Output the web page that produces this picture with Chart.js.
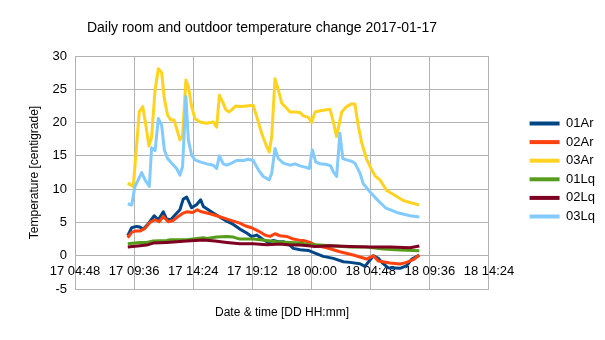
<!DOCTYPE html>
<html>
<head>
<meta charset="utf-8">
<script src="https://cdn.jsdelivr.net/npm/chart.js@4.4.0/dist/chart.umd.min.js"></script>
<style>
  html, body { margin: 0; padding: 0; background: #fff; }
  #wrap { width: 605px; height: 340px; }
</style>
</head>
<body>
<div id="wrap"><canvas id="tempChart"></canvas></div>
<script>
var seriesNames = ['01Ar', '02Ar', '03Ar', '01Lq', '02Lq', '03Lq'];
var seriesColors = ['#004586', '#ff420e', '#ffd320', '#579d1c', '#7e0021', '#83caff'];
var timeTicks = ['17 04:48', '17 09:36', '17 14:24', '17 19:12', '18 00:00', '18 04:48', '18 09:36', '18 14:24'];
var tempTicks = [-5, 0, 5, 10, 15, 20, 25, 30];

// [DD HH:mm, temperature]
var ar01 = [
    ['17 09:05', 3.0], ['17 09:24', 4.2], ['17 09:48', 4.4], ['17 10:04', 4.3], ['17 10:21', 4.0],
    ['17 10:45', 4.8], ['17 11:14', 6.0], ['17 11:34', 5.4], ['17 11:58', 6.6], ['17 12:14', 5.5],
    ['17 12:34', 5.4], ['17 12:55', 6.1], ['17 13:19', 6.9], ['17 13:35', 8.5], ['17 13:52', 8.8],
    ['17 14:16', 7.2], ['17 14:41', 7.7], ['17 15:00', 8.4], ['17 15:13', 7.4], ['17 15:37', 6.9],
    ['17 16:01', 6.4], ['17 16:34', 5.8], ['17 17:07', 5.2], ['17 17:39', 4.7], ['17 18:11', 4.0],
    ['17 18:44', 3.4], ['17 19:08', 2.9], ['17 19:33', 3.1], ['17 20:05', 2.4], ['17 20:29', 2.0],
    ['17 20:54', 2.3], ['17 21:18', 2.1], ['17 21:42', 2.1], ['17 22:07', 1.8], ['17 22:31', 1.1],
    ['17 23:04', 0.9], ['17 23:44', 0.8], ['18 00:17', 0.4], ['18 00:57', -0.1], ['18 01:46', -0.4],
    ['18 02:35', -0.9], ['18 03:07', -1.0], ['18 03:56', -1.2], ['18 04:20', -1.6], ['18 05:01', 0.0],
    ['18 05:25', -0.4], ['18 05:49', -1.2], ['18 06:12', -1.8], ['18 07:11', -1.9], ['18 07:43', -1.5],
    ['18 08:08', -0.5], ['18 08:45', 0.1]
];
var ar02 = [
    ['17 09:05', 2.7], ['17 09:24', 3.5], ['17 09:40', 3.7], ['17 10:04', 3.7], ['17 10:29', 4.1],
    ['17 10:53', 5.0], ['17 11:18', 5.4], ['17 11:38', 5.1], ['17 11:58', 5.9], ['17 12:22', 5.1],
    ['17 12:47', 5.3], ['17 13:11', 5.9], ['17 13:35', 6.4], ['17 13:52', 6.6], ['17 14:21', 6.5],
    ['17 14:44', 6.9], ['17 15:05', 6.6], ['17 15:45', 6.3], ['17 16:18', 6.0], ['17 16:58', 5.6],
    ['17 17:39', 5.2], ['17 18:11', 4.9], ['17 18:36', 4.5], ['17 19:08', 4.2], ['17 19:41', 3.7],
    ['17 20:13', 3.1], ['17 20:38', 2.9], ['17 21:02', 3.3], ['17 21:26', 3.0], ['17 21:59', 2.9],
    ['17 22:31', 2.5], ['17 23:04', 2.3], ['17 23:20', 2.3], ['17 23:52', 2.0], ['18 00:25', 1.5],
    ['18 01:14', 1.2], ['18 02:18', 0.6], ['18 03:23', 0.1], ['18 04:28', -0.5], ['18 05:01', 0.0],
    ['18 05:25', -0.8], ['18 06:22', -1.1], ['18 07:11', -1.25], ['18 07:43', -1.0], ['18 08:15', -0.6],
    ['18 08:45', 0.1]
];
var ar03 = [
    ['17 09:05', 10.9], ['17 09:32', 10.4], ['17 10:01', 21.6], ['17 10:18', 22.4], ['17 10:34', 19.4],
    ['17 10:48', 16.5], ['17 11:01', 17.8], ['17 11:18', 24.9], ['17 11:34', 28.1], ['17 11:50', 27.5],
    ['17 12:03', 23.6], ['17 12:19', 21.1], ['17 12:34', 20.4], ['17 12:50', 20.4], ['17 13:03', 19.1],
    ['17 13:19', 17.4], ['17 13:32', 18.1], ['17 13:48', 26.4], ['17 14:00', 25.4], ['17 14:16', 22.4],
    ['17 14:32', 20.6], ['17 14:57', 20.1], ['17 15:29', 19.9], ['17 16:01', 20.1], ['17 16:18', 19.3],
    ['17 16:31', 24.1], ['17 16:47', 23.1], ['17 17:03', 21.9], ['17 17:19', 21.6], ['17 17:52', 22.5],
    ['17 18:11', 22.4], ['17 18:44', 22.5], ['17 19:16', 22.6], ['17 19:33', 20.9], ['17 19:57', 18.4],
    ['17 20:21', 16.4], ['17 20:34', 15.6], ['17 20:46', 17.9], ['17 21:02', 26.6], ['17 21:18', 24.9],
    ['17 21:35', 22.9], ['17 21:51', 22.4], ['17 22:15', 21.6], ['17 22:39', 21.6], ['17 23:04', 21.5],
    ['17 23:20', 21.0], ['17 23:44', 20.8], ['18 00:00', 20.0], ['18 00:17', 21.6], ['18 00:49', 21.8],
    ['18 01:30', 22.0], ['18 01:46', 20.1], ['18 02:02', 17.9], ['18 02:27', 21.6], ['18 02:51', 22.4],
    ['18 03:15', 22.8], ['18 03:31', 22.8], ['18 03:47', 19.6], ['18 04:04', 17.0], ['18 04:28', 14.5],
    ['18 04:53', 12.9], ['18 05:09', 12.0], ['18 05:33', 11.4], ['18 06:06', 9.8], ['18 06:55', 8.9],
    ['18 07:27', 8.3], ['18 07:59', 8.0], ['18 08:45', 7.6]
];
var lq01 = [
    ['17 09:05', 1.8], ['17 10:04', 2.0], ['17 10:37', 2.0], ['17 11:09', 2.2], ['17 12:14', 2.3],
    ['17 12:31', 2.4], ['17 13:52', 2.4], ['17 15:13', 2.7], ['17 15:29', 2.6], ['17 16:18', 2.8],
    ['17 17:07', 2.9], ['17 17:39', 2.8], ['17 18:11', 2.5], ['17 19:16', 2.5], ['17 20:21', 2.3],
    ['17 21:10', 2.1], ['17 22:15', 2.0], ['17 23:04', 1.9], ['17 23:44', 1.7], ['18 00:41', 1.6],
    ['18 01:30', 1.5], ['18 03:07', 1.3], ['18 04:28', 1.3], ['18 05:49', 1.0], ['18 07:11', 0.85],
    ['18 08:45', 0.75]
];
var lq02 = [
    ['17 09:05', 1.3], ['17 10:04', 1.5], ['17 10:37', 1.6], ['17 11:09', 1.9], ['17 12:14', 2.0],
    ['17 13:52', 2.2], ['17 15:13', 2.35], ['17 16:10', 2.2], ['17 17:07', 2.0], ['17 18:11', 1.8],
    ['17 19:16', 1.8], ['17 20:21', 1.65], ['17 21:26', 1.75], ['17 22:15', 1.6], ['17 23:04', 1.6],
    ['17 23:44', 1.5], ['18 00:17', 1.4], ['18 01:30', 1.5], ['18 03:07', 1.4], ['18 04:44', 1.3],
    ['18 06:22', 1.3], ['18 07:59', 1.2], ['18 08:45', 1.45]
];
var lq03 = [
    ['17 09:05', 7.8], ['17 09:24', 7.6], ['17 09:40', 10.4], ['17 09:56', 11.4], ['17 10:13', 12.5],
    ['17 10:29', 11.4], ['17 10:50', 10.4], ['17 11:01', 16.2], ['17 11:18', 15.8], ['17 11:34', 20.6],
    ['17 11:50', 19.6], ['17 12:03', 15.9], ['17 12:19', 14.6], ['17 12:39', 13.9], ['17 13:03', 13.1],
    ['17 13:19', 12.1], ['17 13:32', 13.4], ['17 13:48', 23.9], ['17 14:00', 17.4], ['17 14:16', 15.1],
    ['17 14:32', 14.4], ['17 14:57', 14.1], ['17 15:29', 13.8], ['17 16:01', 13.6], ['17 16:18', 13.1],
    ['17 16:31', 15.0], ['17 16:50', 13.8], ['17 17:07', 13.6], ['17 17:31', 13.9], ['17 17:55', 14.3],
    ['17 18:28', 14.3], ['17 18:52', 14.5], ['17 19:16', 14.3], ['17 19:41', 12.9], ['17 20:05', 11.9],
    ['17 20:34', 11.4], ['17 20:46', 12.4], ['17 21:02', 16.1], ['17 21:18', 14.6], ['17 21:42', 13.9],
    ['17 22:15', 13.6], ['17 22:39', 13.8], ['17 23:04', 13.5], ['17 23:28', 13.3], ['17 23:49', 13.1],
    ['18 00:04', 15.9], ['18 00:20', 14.1], ['18 00:41', 13.8], ['18 01:14', 13.7], ['18 01:33', 13.5],
    ['18 01:46', 12.6], ['18 02:02', 11.9], ['18 02:18', 18.4], ['18 02:32', 14.6], ['18 02:51', 14.4],
    ['18 03:15', 14.2], ['18 03:31', 13.9], ['18 03:56', 12.4], ['18 04:12', 10.8], ['18 04:44', 9.6],
    ['18 05:17', 8.5], ['18 06:00', 7.2], ['18 06:55', 6.5], ['18 07:59', 6.0], ['18 08:45', 5.8]
];
var seriesRows = [ar01, ar02, ar03, lq01, lq02, lq03];

// minutes since 17 00:00
var toMinutes = function(label) {
    var p = label.split(/[ :]/);
    return (parseInt(p[0], 10) - 17) * 1440 + parseInt(p[1], 10) * 60 + parseInt(p[2], 10);
};

var datasets = seriesRows.map(function(rows, i) {
    return {
        label: seriesNames[i],
        data: rows.map(function(r) { return {x: toMinutes(r[0]), y: r[1]}; }),
        borderColor: seriesColors[i],
        backgroundColor: seriesColors[i],
        borderWidth: 3,
        borderJoinStyle: 'round',
        pointRadius: 0,
        tension: 0,
        order: seriesRows.length - i
    };
});

var xMin = toMinutes(timeTicks[0]);
var xMax = toMinutes(timeTicks[timeTicks.length - 1]);
var xStep = toMinutes(timeTicks[1]) - xMin;

Chart.defaults.font.family = "'Liberation Sans', Arial, sans-serif";
Chart.defaults.color = '#000';

// centre the title over the part left of the legend
var titleShift = {
    id: 'titleShift',
    afterLayout: function(chart) {
        chart.titleBlock.right = chart.legend.left;
    }
};

var ctx = document.getElementById('tempChart').getContext('2d');
var tempChart = new Chart(ctx, {
    type: 'line',
    data: { datasets: datasets },
    plugins: [titleShift],
    options: {
        animation: false,
        responsive: true,
        maintainAspectRatio: false,
        devicePixelRatio: 1,
        layout: { padding: 0 },
        plugins: {
            title: {
                display: true,
                text: 'Daily room and outdoor temperature change 2017-01-17',
                font: { size: 14, weight: 'normal' },
                color: '#000',
                padding: { top: 20, bottom: 19.2 }
            },
            legend: {
                position: 'right',
                labels: {
                    boxWidth: 30,
                    boxHeight: 4,
                    padding: 5.6,
                    font: { size: 13 },
                    generateLabels: function(chart) {
                        var items = Chart.defaults.plugins.legend.labels.generateLabels(chart);
                        items.forEach(function(it) {
                            it.fillStyle = it.strokeStyle;
                            it.lineWidth = 0;
                        });
                        return items.sort(function(a, b) { return a.datasetIndex - b.datasetIndex; });
                    }
                }
            },
            tooltip: { enabled: false }
        },
        scales: {
            x: {
                type: 'linear',
                position: { y: 0 },
                min: xMin,
                max: xMax,
                grid: { color: '#b3b3b3', drawTicks: false },
                border: { color: '#b3b3b3' },
                ticks: {
                    stepSize: xStep,
                    padding: 8,
                    maxRotation: 0,
                    autoSkip: false,
                    font: { size: 13 },
                    callback: function(value, index) { return timeTicks[index]; }
                }
            },
            xTitle: {
                axis: 'x',
                type: 'linear',
                position: 'bottom',
                grid: { display: false, drawTicks: false },
                border: { display: false },
                ticks: { display: false },
                title: {
                    display: true,
                    text: 'Date & time [DD HH:mm]',
                    font: { size: 12 },
                    padding: { top: 17, bottom: 20 }
                },
                afterFit: function(scale) { scale.height = 51; }
            },
            y: {
                min: tempTicks[0],
                max: tempTicks[tempTicks.length - 1],
                grid: { color: '#b3b3b3', drawTicks: false },
                border: { display: false },
                ticks: { stepSize: tempTicks[1] - tempTicks[0], padding: 8, font: { size: 13 } },
                title: {
                    display: true,
                    text: 'Temperature [centigrade]',
                    font: { size: 12 },
                    padding: { top: 27, bottom: 11 }
                },
                afterFit: function(scale) { scale.width = 75; }
            },
            yGap: {
                axis: 'y',
                position: 'right',
                grid: { display: false, drawTicks: false },
                border: { display: false },
                ticks: { display: false },
                afterFit: function(scale) { scale.width = 35; }
            }
        }
    }
});
</script>
</body>
</html>
